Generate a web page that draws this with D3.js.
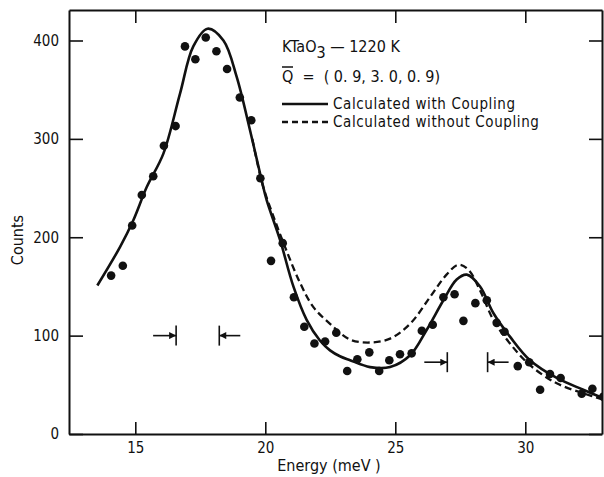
<!DOCTYPE html>
<html lang="en">
<head>
<meta charset="utf-8">
<title>KTaO3 - 1220 K</title>
<script src="https://cdn.jsdelivr.net/npm/d3@7"></script>
<style>
body { margin: 0; background: #fff; }
svg text { font-family: "DejaVu Sans Condensed", "Liberation Sans Narrow", sans-serif; font-size: 16px; fill: #111; }
.axis path, .axis line { stroke: #111; }
.axis text { font-size: 15px; }
.leg { font-size: 15px; letter-spacing: 0.6px; }
</style>
</head>
<body>
<div id="chart"></div>
<script>
// measured counts (dots)
var energy = [14.07, 14.52, 14.88, 15.25, 15.69, 16.10, 16.55, 16.91, 17.31, 17.71, 18.12, 18.53, 19.02, 19.46, 19.81,
              20.22, 20.67, 21.10, 21.50, 21.89, 22.30, 22.73, 23.15, 23.54, 24.00, 24.38, 24.77, 25.18, 25.63, 26.02,
              26.44, 26.85, 27.28, 27.62, 28.08, 28.52, 28.90, 29.20, 29.71, 30.15, 30.57, 30.95, 31.36, 32.17, 32.58, 33.00];
var counts = [161, 171, 212, 243, 262, 293, 313, 394, 381, 403, 389, 371, 342, 319, 260,
              176, 194, 139, 109, 92, 94, 103, 64, 76, 83, 64, 75, 81, 82, 105,
              111, 139, 142, 115, 133, 136, 113, 104, 69, 73, 45, 61, 57, 41, 46, 38];

// calculated with coupling (solid)
var withE = [13.54, 14.41, 14.92, 15.44, 16.08, 16.72, 17.23, 17.78, 18.39, 18.90, 19.41, 19.86, 20.05, 20.57, 21.08,
             21.59, 22.10, 22.49, 22.87, 23.26, 24.03, 24.80, 25.57, 26.21, 26.85, 27.36, 27.75, 28.26, 28.77, 29.41,
             30.18, 31.21, 32.23, 33.03];
var withC = [151, 190, 217, 251, 285, 346, 394, 412, 400, 363, 309, 258, 238, 197, 150,
             116, 95, 85, 79, 75, 68, 68, 80, 106, 136, 157, 162, 150, 123, 99,
             75, 57, 45, 36];

// calculated without coupling (dashed)
var withoutE = [19.50, 19.90, 20.40, 20.82, 21.33, 21.85, 22.49, 23.26, 24.03, 24.80, 25.57, 26.33, 26.97, 27.42, 27.81,
                28.26, 28.77, 29.41, 30.18, 31.21, 32.23, 33.03];
var withoutC = [300, 253, 215, 186, 154, 129, 112, 96, 93, 97, 112, 139, 162, 172, 167,
                146, 116, 92, 70, 51.5, 41.4, 34.6];

var xTicks = [15, 20, 25, 30];
var yTicks = [0, 100, 200, 300, 400];

// resolution markers: [left energy, right energy, counts]
var resolution = [[16.57, 18.23, 100], [27.0, 28.55, 73]];

var w = 604, h = 477;
var plotL = 69, plotR = 602, plotT = 10, plotB = 434;

var svg = d3.select("#chart").append("svg")
    .attr("width", w)
    .attr("height", h);

var x = d3.scaleLinear().domain([12.45, 32.95]).range([plotL, plotR]);
var y = d3.scaleLinear().domain([0, 431]).range([plotB, plotT]);

var defs = svg.append("defs");
defs.append("clipPath").attr("id", "plot")
   .append("rect")
   .attr("x", plotL).attr("y", plotT)
   .attr("width", plotR - plotL).attr("height", plotB - plotT);

defs.append("marker")
    .attr("id", "head")
    .attr("viewBox", "0 0 10 10")
    .attr("refX", 10).attr("refY", 5)
    .attr("markerWidth", 9).attr("markerHeight", 7)
    .attr("markerUnits", "userSpaceOnUse")
    .attr("orient", "auto")
    .append("path")
    .attr("d", "M0,0 L10,5 L0,10 Z")
    .attr("fill", "#111");

// axes (ticks pointing inward)
var bottomAxis = d3.axisBottom(x).tickValues(xTicks).tickSizeInner(-12).tickSizeOuter(0).tickPadding(8);
var leftAxis = d3.axisLeft(y).tickValues(yTicks).tickSizeInner(-14).tickSizeOuter(0).tickPadding(10);
var topAxis = d3.axisTop(x).tickValues(xTicks).tickSizeInner(-13).tickSizeOuter(0).tickFormat("");
var rightAxis = d3.axisRight(y).tickValues(yTicks).tickSizeInner(-13).tickSizeOuter(0).tickFormat("");

svg.append("g").attr("class", "axis")
   .attr("transform", "translate(0," + plotB + ")")
   .call(bottomAxis);
svg.append("g").attr("class", "axis")
   .attr("transform", "translate(" + plotL + ",0)")
   .call(leftAxis);
svg.append("g").attr("class", "axis")
   .attr("transform", "translate(0," + plotT + ")")
   .call(topAxis);
svg.append("g").attr("class", "axis")
   .attr("transform", "translate(" + plotR + ",0)")
   .call(rightAxis);

svg.selectAll(".axis path").attr("stroke-width", 2);
svg.selectAll(".axis line").attr("stroke-width", 1.6);

// axis titles
svg.append("text")
   .attr("x", 329).attr("y", 471)
   .attr("text-anchor", "middle")
   .text("Energy (meV )");
svg.append("text")
   .attr("transform", "translate(23,240) rotate(-90)")
   .attr("text-anchor", "middle")
   .text("Counts");

var plot = svg.append("g").attr("clip-path", "url(#plot)");

var line = d3.line()
    .x(function(d) { return x(d[0]); })
    .y(function(d) { return y(d[1]); })
    .curve(d3.curveCatmullRom.alpha(0.5));

plot.append("path")
    .datum(d3.zip(withoutE, withoutC))
    .attr("d", line)
    .attr("fill", "none")
    .attr("stroke", "#111")
    .attr("stroke-width", 2.3)
    .attr("stroke-dasharray", "7,4");

plot.append("path")
    .datum(d3.zip(withE, withC))
    .attr("d", line)
    .attr("fill", "none")
    .attr("stroke", "#111")
    .attr("stroke-width", 2.6);

plot.selectAll("circle")
    .data(d3.zip(energy, counts))
    .enter()
    .append("circle")
    .attr("cx", function(d) { return x(d[0]); })
    .attr("cy", function(d) { return y(d[1]); })
    .attr("r", 4.3)
    .attr("fill", "#111");

// resolution arrows
resolution.forEach(function(r) {
    var yy = y(r[2]);
    [r[0], r[1]].forEach(function(e, i) {
        var xx = x(e);
        svg.append("line")
           .attr("x1", xx).attr("x2", xx)
           .attr("y1", yy - 10).attr("y2", yy + 10)
           .attr("stroke", "#111").attr("stroke-width", 1.6);
        var from = i === 0 ? xx - 23 : xx + 21;
        svg.append("line")
           .attr("x1", from).attr("x2", xx)
           .attr("y1", yy).attr("y2", yy)
           .attr("stroke", "#111").attr("stroke-width", 1.6)
           .attr("marker-end", "url(#head)");
    });
});

// legend
var lg = svg.append("g");
var t1 = lg.append("text").attr("x", 282).attr("y", 52);
t1.append("tspan").text("KTaO");
t1.append("tspan").attr("dy", 6).text("3");
t1.append("tspan").attr("dy", -6).text(" \u2014 1220 K");

lg.append("text").attr("x", 282).attr("y", 82)
  .text("Q  =  ( 0. 9, 3. 0, 0. 9)")
  .style("white-space", "pre");
lg.append("line")
  .attr("x1", 282).attr("x2", 293)
  .attr("y1", 67).attr("y2", 67)
  .attr("stroke", "#111").attr("stroke-width", 1.5);

lg.append("line")
  .attr("x1", 282).attr("x2", 328)
  .attr("y1", 104).attr("y2", 104)
  .attr("stroke", "#111").attr("stroke-width", 2.6);
lg.append("text").attr("class", "leg").attr("x", 333).attr("y", 109).text("Calculated with Coupling");

lg.append("line")
  .attr("x1", 282).attr("x2", 328)
  .attr("y1", 122).attr("y2", 122)
  .attr("stroke", "#111").attr("stroke-width", 2.3)
  .attr("stroke-dasharray", "6,4");
lg.append("text").attr("class", "leg").attr("x", 333).attr("y", 127).text("Calculated without Coupling");
</script>
</body>
</html>
